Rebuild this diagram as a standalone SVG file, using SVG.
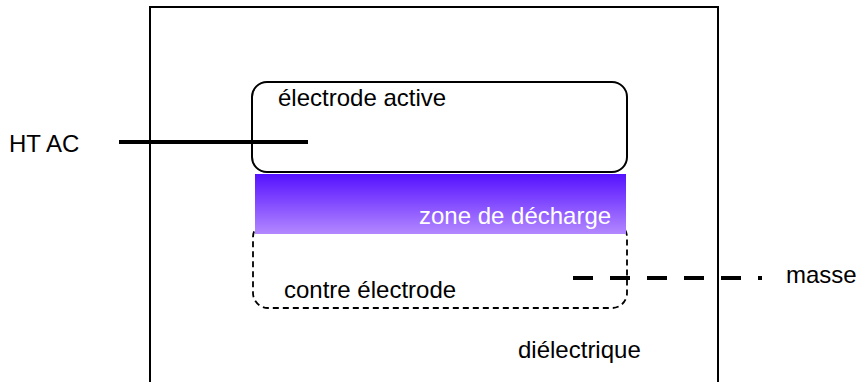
<svg xmlns="http://www.w3.org/2000/svg" width="858" height="382" viewBox="0 0 858 382">
<style>
text{font-family:"Liberation Sans",Arial,sans-serif;font-size:24px;fill:#000}
.elec{fill:#fff;stroke:#000;stroke-width:2}
.counter{fill:none;stroke:#000;stroke-width:1.8;stroke-dasharray:6 4}
.wire{stroke:#000;stroke-width:4;fill:none}
</style>
<defs>
<linearGradient id="plasma" x1="0" y1="0" x2="0" y2="1">
<stop offset="0" stop-color="#5511ff"/>
<stop offset="1" stop-color="#b388ff"/>
</linearGradient>
</defs>
<rect width="858" height="382" fill="#fff"/>
<g id="dielectrique">
<path d="M150,400 V7 H718 V400" fill="none" stroke="#000" stroke-width="2"/>
<text x="518" y="358">diélectrique</text>
</g>
<g id="electrode-active">
<rect class="elec" x="252" y="82" width="375" height="90" rx="15"/>
<text x="278" y="106">électrode active</text>
</g>
<g id="contre-electrode">
<rect class="counter" x="253" y="222" width="374" height="86" rx="15"/>
<text x="284" y="298">contre électrode</text>
</g>
<g id="zone-decharge">
<rect x="255" y="174" width="371" height="60" fill="url(#plasma)"/>
<text x="419" y="224" style="fill:#fff">zone de décharge</text>
</g>
<g id="ht-ac">
<text x="9" y="152">HT AC</text>
</g>
<g id="masse">
<text x="786" y="283">masse</text>
</g>
<g id="connectors">
<line class="wire" x1="119" y1="142" x2="308" y2="142"/>
<line class="wire" x1="573" y1="278" x2="762" y2="278" stroke-dasharray="20 17"/>
</g>
</svg>
